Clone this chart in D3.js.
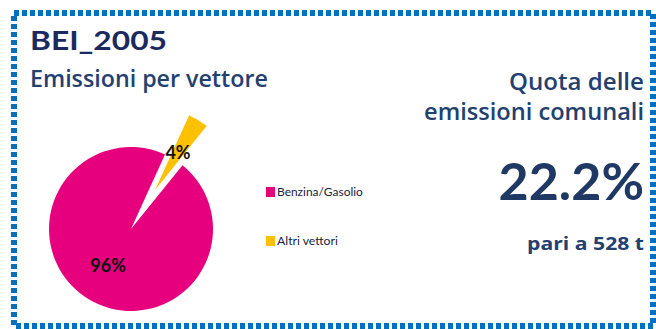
<!DOCTYPE html>
<html>
<head>
<meta charset="utf-8">
<script src="https://cdn.jsdelivr.net/npm/d3@7"></script>
<style>
  html, body { margin: 0; padding: 0; background: #fff; }
  svg { display: block; }
  text { font-family: Lato, "Open Sans", sans-serif; }
  .os { font-family: "Open Sans", Lato, sans-serif; }
</style>
</head>
<body>
<svg id="chart" width="656" height="329"></svg>
<script>
// Emission breakdown by energy carrier (percent)
const categories = ["Benzina/Gasolio", "Altri vettori"];
const values = [96, 4];
const colors = ["#e6007e", "#ffc000"];

// Headline figures
const titleText = "BEI_2005";
const subtitleText = "Emissioni per vettore";
const shareLines = ["Quota delle", "emissioni comunali"];
const shareWidths = [135, 220];
const sharePercent = [22.2];
const shareTonnes = [528];

const svg = d3.select("#chart");

// Stretch a text horizontally so it spans `width`, keeping its anchor fixed
function fitWidth(sel, width) {
  sel.each(function () {
    const t = d3.select(this);
    const w = this.getComputedTextLength();
    const x = +t.attr("x"), y = +t.attr("y");
    const anchor = t.attr("text-anchor") || "start";
    const k = width / w;
    t.attr("transform", `translate(${x},${y}) scale(${k},1) translate(${-x},${-y})`);
    if (anchor === "middle") return;
  });
}

// Dotted frame
svg.append("rect")
  .attr("x", 14).attr("y", 13)
  .attr("width", 639).attr("height", 313)
  .attr("fill", "none")
  .attr("stroke", "#0070c0")
  .attr("stroke-width", 6)
  .attr("stroke-dasharray", "5,3");

// Title block
svg.append("text")
  .attr("x", 30).attr("y", 50)
  .attr("font-size", 26).attr("font-weight", 700)
  .attr("fill", "#1b2a5e")
  .text(titleText)
  .call(fitWidth, 137);

svg.append("text")
  .attr("class", "os")
  .attr("x", 30).attr("y", 87)
  .attr("font-size", 24).attr("font-weight", 600)
  .attr("fill", "#23406f")
  .text(subtitleText)
  .call(fitWidth, 238);

// Right-hand summary
const rightX = 644;
svg.selectAll("text.share")
  .data(shareLines)
  .join("text")
  .attr("class", "share os")
  .attr("x", rightX)
  .attr("y", (d, i) => 90 + i * 30)
  .attr("text-anchor", "end")
  .attr("font-size", 24).attr("font-weight", 600)
  .attr("fill", "#23406f")
  .text(d => d)
  .each(function (d, i) { d3.select(this).call(fitWidth, shareWidths[i]); });

svg.append("text")
  .attr("x", rightX).attr("y", 200)
  .attr("text-anchor", "end")
  .attr("font-size", 52).attr("font-weight", 700)
  .attr("fill", "#1f3864")
  .text(d3.format(".1f")(sharePercent[0]) + "%");

svg.append("text")
  .attr("class", "os")
  .attr("x", rightX).attr("y", 250)
  .attr("text-anchor", "end")
  .attr("font-size", 18).attr("font-weight", 700)
  .attr("fill", "#23406f")
  .text("pari a " + shareTonnes[0] + " t")
  .call(fitWidth, 117);

// Pie
const cx = 131, cy = 229, R = 82, explode = 46;
const start = 38.9 * Math.PI / 180;
const pie = d3.pie().sort(null).value(d => d.value)
  .startAngle(start).endAngle(start + 2 * Math.PI);
const data = categories.map((c, i) => ({ name: c, value: values[i], color: colors[i] }));
const arcs = pie(data);
const arc = d3.arc().innerRadius(0).outerRadius(R);
const labelArc = d3.arc().innerRadius(R * 0.53).outerRadius(R * 0.53);
const total = d3.sum(values);

const offset = (d, i) => {
  if (i === 0) return [0, 0];
  const mid = (d.startAngle + d.endAngle) / 2;
  return [explode * Math.sin(mid), -explode * Math.cos(mid)];
};

const g = svg.append("g").attr("transform", `translate(${cx},${cy})`);
const slices = g.selectAll("g.slice")
  .data(arcs)
  .join("g")
  .attr("class", "slice")
  .attr("transform", (d, i) => `translate(${offset(d, i)})`);

slices.append("path")
  .attr("d", arc)
  .attr("fill", d => d.data.color);

slices.append("text")
  .attr("transform", d => `translate(${labelArc.centroid(d)})`)
  .attr("text-anchor", "middle")
  .attr("dy", "0.36em")
  .attr("font-size", 18).attr("font-weight", 700)
  .attr("fill", "#111")
  .text(d => Math.round(d.data.value / total * 100) + "%");

// Legend
const legendWidths = [86, 61];
const legend = svg.append("g").attr("transform", "translate(266,187)");
const items = legend.selectAll("g")
  .data(data)
  .join("g")
  .attr("transform", (d, i) => `translate(0,${i * 49})`);
items.append("rect")
  .attr("width", 9).attr("height", 10)
  .attr("fill", d => d.color);
items.append("text")
  .attr("x", 11).attr("y", 9)
  .attr("font-size", 11)
  .attr("fill", "#1a2340")
  .text(d => d.name)
  .each(function (d, i) { d3.select(this).call(fitWidth, legendWidths[i]); });
</script>
</body>
</html>
